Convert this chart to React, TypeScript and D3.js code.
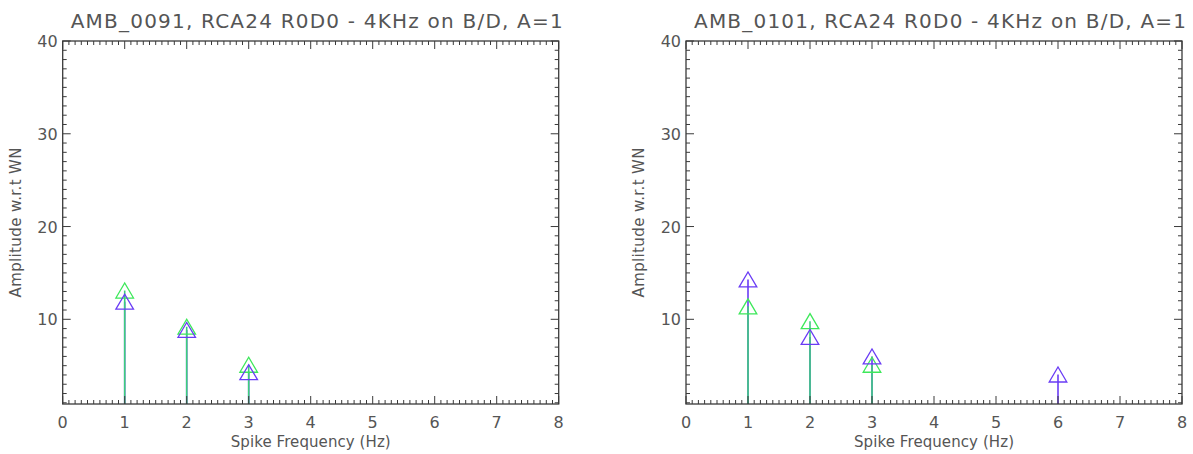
import React from "react";
import * as d3 from "d3";

const xTickValues = [0, 1, 2, 3, 4, 5, 6, 7, 8];
const yTickValues = [10, 20, 30, 40];

const leftTitle = "AMB_0091, RCA24 R0D0 - 4KHz on B/D, A=1";
const leftGreenFreq = [1, 2, 3];
const leftGreenAmp = [13.1, 9.2, 5.1];
const leftBlueFreq = [1, 2, 3];
const leftBlueAmp = [11.9, 8.85, 4.3];

const rightTitle = "AMB_0101, RCA24 R0D0 - 4KHz on B/D, A=1";
const rightGreenFreq = [1, 2, 3];
const rightGreenAmp = [11.4, 9.8, 5.1];
const rightBlueFreq = [1, 2, 3, 6];
const rightBlueAmp = [14.3, 8.1, 6.0, 4.05];

const xLabel = "Spike Frequency (Hz)";
const yLabel = "Amplitude w.r.t WN";

const GREEN = "#3de85a";
const BLUE = "#6a3cf5";
const STEM_GREEN = "#3ccf7c";
const AXIS = "#3a3a3a";
const TEXT = "#555";
const FONT = "'DejaVu Sans', sans-serif";

type Panel = {
  title: string;
  gF: number[];
  gA: number[];
  bF: number[];
  bA: number[];
  x0: number;
  x1: number;
};

const Y_TOP = 41;
const Y_BOT = 404;

function PanelChart({ p }: { p: Panel }) {
  const x = d3.scaleLinear().domain([0, 8]).range([p.x0, p.x1]);
  const y = d3.scaleLinear().domain([0.87, 40]).range([Y_BOT, Y_TOP]);
  const xMinor = d3.range(0, 80).map((i) => i / 10).filter((v) => v % 1 !== 0);
  const yMinor = d3.range(1, 40).filter((v) => v % 10 !== 0);
  const tri = (cx: number, cy: number) => {
    const w = 8.8, h = 7.5;
    return `M${cx - w},${cy + h}L${cx},${cy - h}L${cx + w},${cy + h}Z`;
  };
  const cx = (p.x0 + p.x1) / 2;
  const cy = (Y_TOP + Y_BOT) / 2;
  const major = 8, minor = 4;
  return (
    <g>
      <text x={cx + 6} y={28} textAnchor="middle" fontFamily={FONT} fontSize={20} fill={TEXT}
        textLength={492} lengthAdjust="spacing">{p.title}</text>
      {p.bF.map((f, i) => (
        <line key={"bs" + i} x1={x(f)} x2={x(f)} y1={y(0.87)} y2={y(p.bA[i])} stroke={BLUE} strokeWidth={1.6} />
      ))}
      {p.gF.map((f, i) => (
        <line key={"gs" + i} x1={x(f)} x2={x(f)} y1={y(0.87)} y2={y(p.gA[i])} stroke={STEM_GREEN} strokeWidth={1.6} />
      ))}
      {p.gF.map((f, i) => (
        <path key={"gt" + i} d={tri(x(f), y(p.gA[i]))} fill="none" stroke={GREEN} strokeWidth={1.3} />
      ))}
      {p.bF.map((f, i) => (
        <path key={"bt" + i} d={tri(x(f), y(p.bA[i]))} fill="none" stroke={BLUE} strokeWidth={1.3} />
      ))}
      <rect x={p.x0} y={Y_TOP} width={p.x1 - p.x0} height={Y_BOT - Y_TOP} fill="none" stroke={AXIS} strokeWidth={1.3} />
      {xTickValues.map((v) => (
        <g key={"xt" + v}>
          <line x1={x(v)} x2={x(v)} y1={Y_BOT} y2={Y_BOT - major} stroke={AXIS} strokeWidth={1} />
          <line x1={x(v)} x2={x(v)} y1={Y_TOP} y2={Y_TOP + major} stroke={AXIS} strokeWidth={1} />
          <text x={x(v)} y={428} textAnchor="middle" fontFamily={FONT} fontSize={16} fill={TEXT}>{v}</text>
        </g>
      ))}
      {xMinor.map((v) => (
        <g key={"xm" + v}>
          <line x1={x(v)} x2={x(v)} y1={Y_BOT} y2={Y_BOT - minor} stroke={AXIS} strokeWidth={1} />
          <line x1={x(v)} x2={x(v)} y1={Y_TOP} y2={Y_TOP + minor} stroke={AXIS} strokeWidth={1} />
        </g>
      ))}
      {yTickValues.map((v) => (
        <g key={"yt" + v}>
          <line x1={p.x0} x2={p.x0 + major} y1={y(v)} y2={y(v)} stroke={AXIS} strokeWidth={1} />
          <line x1={p.x1} x2={p.x1 - major} y1={y(v)} y2={y(v)} stroke={AXIS} strokeWidth={1} />
          <text x={p.x0 - 5} y={y(v) + 6} textAnchor="end" fontFamily={FONT} fontSize={16} fill={TEXT}>{v}</text>
        </g>
      ))}
      {yMinor.map((v) => (
        <g key={"ym" + v}>
          <line x1={p.x0} x2={p.x0 + minor} y1={y(v)} y2={y(v)} stroke={AXIS} strokeWidth={1} />
          <line x1={p.x1} x2={p.x1 - minor} y1={y(v)} y2={y(v)} stroke={AXIS} strokeWidth={1} />
        </g>
      ))}
      <text x={cx} y={447} textAnchor="middle" fontFamily={FONT} fontSize={15} fill={TEXT}
        textLength={160} lengthAdjust="spacing">{xLabel}</text>
      <text transform={`translate(${p.x0 - 42},${cy}) rotate(-90)`} textAnchor="middle" fontFamily={FONT}
        fontSize={15} fill={TEXT} textLength={150} lengthAdjust="spacing">{yLabel}</text>
    </g>
  );
}

export default function App() {
  const panels: Panel[] = [
    { title: leftTitle, gF: leftGreenFreq, gA: leftGreenAmp, bF: leftBlueFreq, bA: leftBlueAmp, x0: 62.7, x1: 558.7 },
    { title: rightTitle, gF: rightGreenFreq, gA: rightGreenAmp, bF: rightBlueFreq, bA: rightBlueAmp, x0: 686, x1: 1182 },
  ];
  return (
    <svg width={1193} height={454} style={{ position: "absolute", left: 0, top: 0, background: "#fff" }}>
      {panels.map((p, i) => <PanelChart key={i} p={p} />)}
    </svg>
  );
}
